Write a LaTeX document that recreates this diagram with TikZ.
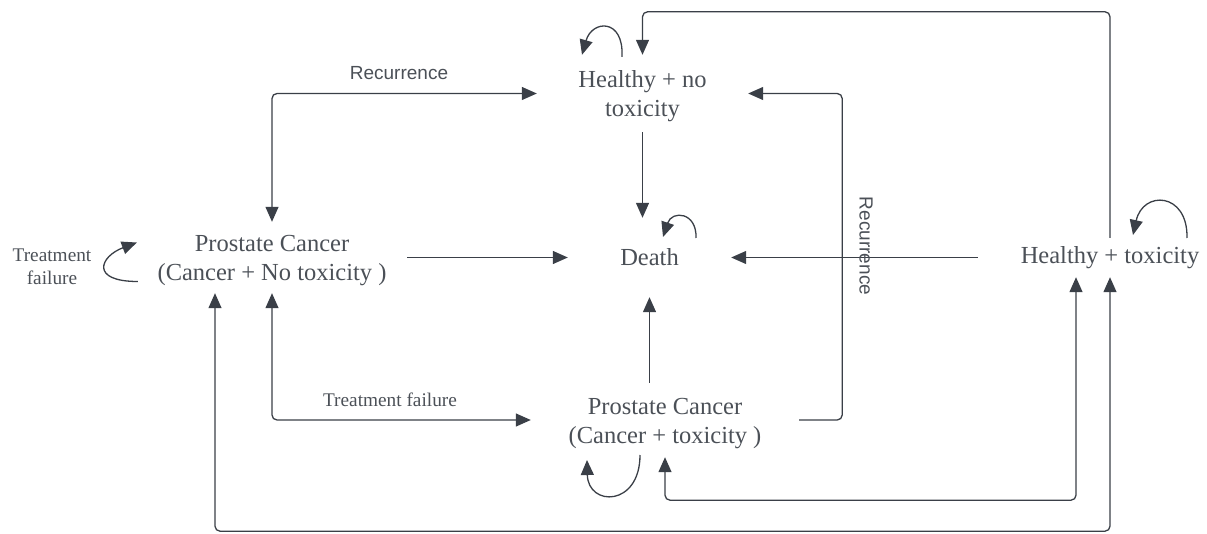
\documentclass[tikz,border=0pt]{standalone}
\usepackage{fontspec}
\setmainfont{Liberation Serif}
\newfontfamily\labelsans{Liberation Sans}
\usetikzlibrary{arrows.meta,calc}
\definecolor{edgecol}{RGB}{58,63,71}
\definecolor{txtcol}{RGB}{75,80,87}
% two centred lines, set a little low inside the state box
\newcommand\twolines[2]{\raisebox{-3pt}[\height][\depth]{\begin{tabular}{@{}c@{}}#1\\#2\end{tabular}}}
\begin{document}
\begin{tikzpicture}[x=1pt,y=-1pt,
  state/.style={inner sep=0pt, align=center, text=txtcol, font=\fontsize{24.5}{29}\selectfont},
  lbl/.style={text=txtcol, inner sep=0pt, align=center},
  serlbl/.style={lbl, font=\fontsize{19.3}{23}\selectfont},
  sanslbl/.style={lbl, font=\labelsans\fontsize{19}{22}\selectfont},
  link/.style={draw=edgecol, line width=1.3pt, rounded corners=5pt},
  tip/.style={-{Triangle[length=15pt,width=13pt]}},
  tips/.style={{Triangle[length=15pt,width=13pt]}-{Triangle[length=15pt,width=13pt]}},
]
\useasboundingbox (0,0) rectangle (1207,534);

% states
\node[state, minimum width=211pt, minimum height=77pt] (hnt) at (642.5,93.5) {\twolines{Healthy + no}{toxicity}};
\node[state, minimum width=270pt, minimum height=71pt] (pcn) at (272,257.5) {\twolines{Prostate Cancer}{(Cancer + No toxicity )}};
\node[state, minimum width=163pt, minimum height=79pt] (death) at (649.5,257.5) {Death};
\node[state, minimum width=264pt, minimum height=39pt] (ht) at (1110,257.5) {Healthy + toxicity};
\node[state, minimum width=268pt, minimum height=74pt] (pct) at (665,420) {\twolines{Prostate Cancer}{(Cancer + toxicity )}};

% transitions
\draw[link,tips] (pcn.north) |- (hnt.west);
\draw[link,tips] (pcn.south) |- (pct.west);
\draw[link,tip] (pcn.east) -- (death.west);
\draw[link,tip] (hnt.south) -- (hnt.south |- death.north);
\draw[link,tip] (death.south |- pct.north) -- (death.south);
\draw[link,tip] (ht.west) -- (death.east);
\draw[link,tip] (pct.east) -- ++(43,0) |- (hnt.east);
\draw[link,tip] (ht.north) -- ++(0,-226) -| (hnt.north);
\draw[link,tips] (pct.south) -- ++(0,43) -| ($(ht.south)+(-34,0)$);
\draw[link,tips] ($(pcn.south)+(-57,0)$) -- ++(0,238) -| (ht.south);

% self loops
\draw[link,tip] ($(pcn.west)+(1,24)$) .. controls +(-48,0) and +(-37,14) .. ($(pcn.west)+(0,-15)$);
\draw[link,tip] ($(hnt.north)+(-20.5,2)$) .. controls +(2,-39) and +(10,-35) .. ($(hnt.north)+(-60.5,0)$);
\draw[link,tip] ($(death.center)+(46.5,-19.5)$) .. controls +(1,-26) and +(9,-27) .. ($(death.center)+(13.5,-20.5)$);
\draw[link,tip] ($(ht.center)+(77,-19.5)$) .. controls +(1,-46) and +(10,-45) .. ($(ht.center)+(23,-22.5)$);
\draw[link,tip] ($(pct.center)+(-25,35)$) .. controls +(0,52) and +(1,47) .. ($(pct.center)+(-78,40)$);

% transition labels
\node[sanslbl] (recA) at (399,73) {Recurrence};
\node[sanslbl, rotate=-90] (recB) at (866,246) {Recurrence};
\node[serlbl] (tfA) at (390,400) {Treatment failure};
\node[serlbl] (tfB) at (52,267) {Treatment\\failure};
\end{tikzpicture}
\end{document}
